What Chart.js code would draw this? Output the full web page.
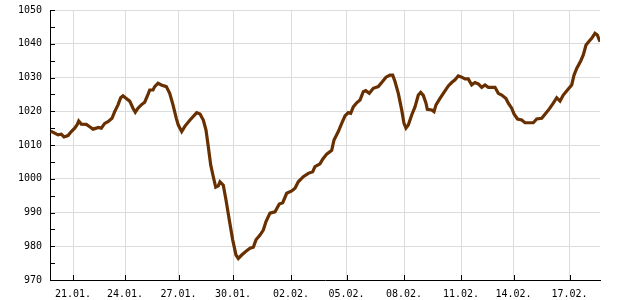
<!DOCTYPE html>
<html>
<head>
<meta charset="utf-8">
<script src="https://cdn.jsdelivr.net/npm/chart.js@4/dist/chart.umd.min.js"></script>
<style>
  html,body{margin:0;padding:0;background:#fff}
  #wrap{width:620px;height:300px;position:relative}
</style>
</head>
<body>
<div id="wrap"><canvas id="cv"></canvas></div>
<script>
'use strict';
// ── DATA ──────────────────────────────────────────────────────
// sample index along the period, and air pressure (hPa)
const sampleIdx = [
  0.7,4.7,8,11.3,14,18,21.3,24.7,27.3,28.7,31.3,36.3,39.7,43,46.3,48,51.3,54.7,58,62,
  64.7,68,70.7,73,76.3,79.7,83,85.3,88,91.3,94.7,98,99.7,103,104.7,108,111.3,116.3,119.7,123,
  126.3,128.3,131.7,135,140,146.7,150,153.3,156,158.3,160.7,163.3,165.7,168.3,170,173.3,176,179.3,182.7,186,
  188.3,191.7,196.7,200,203.3,206,210,213.3,216,220,225,229.3,232.7,236.7,241.7,245,248.3,253.3,258.3,262.7,
  265,270,272.7,276.7,281.7,284,288.3,291.7,295,298.3,300.7,303.3,306.7,310,313.3,315.7,319.3,323.3,328.3,331.7,
  336,340,342.7,345,348.3,351.7,354,356,358.3,361.7,365,368.3,370.7,373.3,376,377.3,381.7,384,386,390,
  394,398.3,401.7,405,408.3,411.7,415,418.3,421.7,425,428.3,431.7,435,438.3,441.7,445,448.3,451.7,456,458.3,
  461.7,464,467.5,471.7,475,479.3,483.3,486.7,491.7,495,499.3,503.3,506.7,510,513.3,518.3,521.7,524,526.7,530.7,
  533.3,536,539.3,541.7,545,547.3,550
];
const pressure = [
  1014.1,1013.5,1013.0,1013.2,1012.4,1012.8,1014.0,1015.0,1016.1,1017.1,1016.2,1016.1,1015.4,1014.7,1015.0,1015.2,1015.0,1016.4,1016.9,1017.9,
  1019.9,1021.9,1024.0,1024.6,1023.8,1023.0,1020.9,1019.7,1020.9,1021.9,1022.7,1025.0,1026.3,1026.3,1027.3,1028.3,1027.8,1027.3,1025.3,1021.9,
  1017.9,1015.9,1014.0,1015.6,1017.4,1019.6,1019.2,1017.4,1014.4,1009.5,1004.1,1000.6,997.5,997.9,999.1,998.1,993.7,987.8,981.9,977.4,
  976.4,977.4,978.7,979.4,979.7,981.9,983.3,984.8,987.3,989.8,990.2,992.5,992.9,995.7,996.4,997.2,999.1,1000.6,1001.6,1002.1,
  1003.6,1004.4,1005.8,1007.3,1008.4,1011.5,1014.0,1016.4,1018.6,1019.6,1019.4,1021.3,1022.5,1023.3,1025.8,1026.1,1025.3,1026.8,1027.3,1028.5,
  1030.1,1030.7,1030.7,1028.8,1025.3,1020.4,1016.4,1015.0,1015.9,1018.9,1021.3,1024.8,1025.6,1024.7,1022.4,1020.6,1020.4,1019.9,1021.9,1023.8,
  1025.6,1027.5,1028.5,1029.3,1030.5,1030.1,1029.6,1029.6,1027.8,1028.5,1028.1,1027.1,1027.8,1027.1,1027.1,1027.1,1025.3,1024.8,1023.8,1022.4,
  1020.9,1019.2,1017.7,1017.4,1016.6,1016.6,1016.6,1017.7,1017.9,1019.1,1020.7,1022.4,1024.0,1023.0,1024.8,1026.6,1027.8,1030.7,1032.7,1034.9,
  1036.7,1039.6,1040.8,1041.6,1043.1,1042.6,1040.6
];
// date ticks (sample index where each day starts)
const tickPos    = [23, 75, 128.5, 183, 241, 296.5, 354, 411, 463.5, 519.5];
const tickLabels = ['21.01.','24.01.','27.01.','30.01.','02.02.','05.02.','08.02.','11.02.','14.02.','17.02.'];
const yMin = 970, yMax = 1050, yStep = 10, yMinorStep = 5;

// ── STYLE ─────────────────────────────────────────────────────
const FONT = {family:'"DejaVu Sans Mono", monospace', size:10};
const LINE = '#683000';
const GRID = '#dcdcdc';

// small black tick marks drawn inside the plot area
const innerTicks = {
  id:'innerTicks',
  afterDraw(chart){
    const {ctx, chartArea:a, scales:{x, y}} = chart;
    ctx.save();
    ctx.strokeStyle = '#000';
    ctx.lineWidth = 1;
    ctx.beginPath();
    for (let v = yMin; v <= yMax; v += yMinorStep) {
      const py = Math.round(y.getPixelForValue(v)) + 0.5;
      ctx.moveTo(a.left, py); ctx.lineTo(a.left + 5, py);
    }
    tickPos.forEach(t => {
      const px = Math.round(x.getPixelForValue(t)) + 0.5;
      ctx.moveTo(px, a.bottom); ctx.lineTo(px, a.bottom - 5);
    });
    ctx.stroke();
    ctx.restore();
  }
};

new Chart(document.getElementById('cv').getContext('2d'), {
  type:'line',
  data:{
    datasets:[{
      data: sampleIdx.map((t,i) => ({x:t, y:pressure[i]})),
      borderColor: LINE,
      borderWidth: 3.2,
      pointRadius: 0,
      tension: 0,
      fill: false
    }]
  },
  options:{
    responsive:true,
    maintainAspectRatio:false,
    animation:false,
    layout:{padding:{left:0, right:20, top:10, bottom:0}},
    plugins:{legend:{display:false}, tooltip:{enabled:false}},
    scales:{
      x:{
        type:'linear', min:0, max:550,
        afterBuildTicks: s => { s.ticks = tickPos.map(v => ({value:v})); },
        afterFit: s => { s.height = 20; s.paddingLeft = 0; s.paddingRight = 0; },
        grid:{color:GRID, drawTicks:false},
        border:{color:'#000', width:1},
        ticks:{
          color:'#000', font:FONT, padding:8, maxRotation:0, autoSkip:false,
          callback: v => tickLabels[tickPos.indexOf(v)] ?? ''
        }
      },
      y:{
        min:yMin, max:yMax,
        afterFit: s => { s.width = 50; s.paddingTop = 0; s.paddingBottom = 0; },
        grid:{color:GRID, drawTicks:false},
        border:{color:'#000', width:1},
        ticks:{color:'#000', font:FONT, padding:8, stepSize:yStep, callback: v => String(v)}
      }
    }
  },
  plugins:[innerTicks]
});
</script>
</body>
</html>
